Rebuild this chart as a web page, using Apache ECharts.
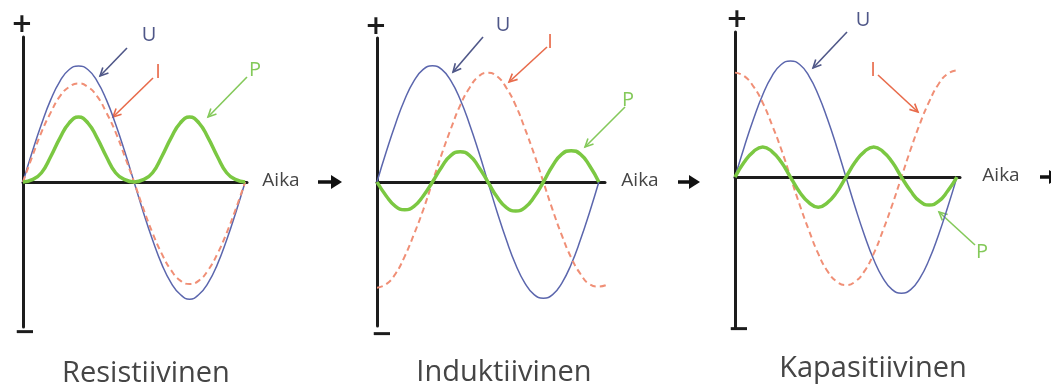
<!DOCTYPE html>
<html>
<head>
<meta charset="utf-8">
<script src="https://cdn.jsdelivr.net/npm/echarts@6/dist/echarts.min.js"></script>
<style>
  html, body { margin: 0; padding: 0; background: #ffffff; }
  #chart { width: 1051px; height: 388px; }
</style>
</head>
<body>
<div id="chart"></div>
<script>
// Phase angle (degrees) of each sample, one AC period plus a little overrun
const deg = [0, 15, 30, 45, 60, 75, 90, 105, 120, 135, 150, 165, 180,
             195, 210, 225, 240, 255, 270, 285, 300, 315, 330, 345, 360, 375];

// Resistive load: current in phase with voltage, power always positive
const resU = [0, 26, 50, 71, 87, 97, 100, 97, 87, 71, 50, 26, 0, -26, -50, -71, -87, -97, -101, -97, -87, -71, -50, -26, 0];
const resI = [0, 22, 43, 60, 74, 82, 85, 82, 74, 60, 43, 22, 0, -23, -44, -62, -76, -85, -88, -85, -76, -62, -44, -23, 0];
const resP = [0, 2, 8, 22, 38, 51, 56, 51, 38, 22, 8, 2, 0, 2, 8, 22, 38, 51, 56, 51, 38, 22, 8, 2, 0];

// Inductive load: current lags voltage by a quarter period
const indU = [0, 26, 50, 71, 87, 97, 100, 97, 87, 71, 50, 26, 0, -26, -50, -71, -87, -97, -100, -97, -87, -71, -50, -26, 0];
const indI = [-91, -88, -79, -64, -45, -24, 0, 24, 46, 66, 81, 91, 94, 91, 81, 66, 46, 24, 0, -24, -46, -65, -79, -88, -90, -88];
const indP = [0, -12, -21, -24, -21, -12, 0, 13, 23, 26, 23, 13, 0, -13, -22, -25, -22, -13, 0, 14, 24, 27, 24, 14, 0];

// Capacitive load: current leads voltage by a quarter period
const capU = [0, 26, 50, 71, 87, 97, 100, 97, 87, 71, 50, 26, 0, -26, -50, -71, -87, -97, -100, -97, -87, -71, -50, -26, 0];
const capI = [90, 87, 78, 64, 45, 24, 0, -24, -46, -66, -81, -90, -93, -90, -81, -66, -46, -24, 0, 24, 46, 65, 80, 89, 92];
const capP = [0, 13, 22, 26, 22, 13, 0, -13, -22, -26, -22, -13, 0, 13, 22, 26, 22, 13, 0, -12, -21, -24, -21, -12, 0];

const panelTitles = ['Resistiivinen', 'Induktiivinen', 'Kapasitiivinen'];
const timeLabel = 'Aika';
const curveNames = ['U', 'I', 'P'];

const C_U = '#5b66ad', C_I = '#f08f76', C_P = '#7bc842';
const L_U = '#4f5788', L_I = '#e86b4b', L_P = '#84c95a';
const AXIS = '#1c1c1c', TEXT = '#454545';

const panels = [
  { grid: { left: 23, top: 37, width: 224, height: 290 }, xMax: 363, yMin: -125, yMax: 125, U: resU, I: resI, P: resP },
  { grid: { left: 377, top: 38, width: 228, height: 288 }, xMax: 370, yMin: -124, yMax: 124, U: indU, I: indI, P: indP },
  { grid: { left: 735, top: 32, width: 225, height: 296 }, xMax: 365, yMin: -130, yMax: 125, U: capU, I: capI, P: capP }
];

const pairs = vals => vals.map((v, i) => [deg[i], v]);

const grids = [], xAxes = [], yAxes = [], series = [];
panels.forEach((p, k) => {
  grids.push(p.grid);
  xAxes.push({
    gridIndex: k, type: 'value', min: 0, max: p.xMax,
    axisLine: { onZero: true, lineStyle: { color: AXIS, width: 3 } },
    axisTick: { show: false }, axisLabel: { show: false }, splitLine: { show: false }
  });
  yAxes.push({
    gridIndex: k, type: 'value', min: p.yMin, max: p.yMax,
    axisLine: { show: true, onZero: false, lineStyle: { color: AXIS, width: 3 } },
    axisTick: { show: false }, axisLabel: { show: false }, splitLine: { show: false }
  });
  series.push({
    name: curveNames[0], type: 'line', xAxisIndex: k, yAxisIndex: k, data: pairs(p.U),
    smooth: true, symbol: 'none', clip: false, z: 3,
    lineStyle: { color: C_U, width: 1.5 }
  });
  series.push({
    name: curveNames[1], type: 'line', xAxisIndex: k, yAxisIndex: k, data: pairs(p.I),
    smooth: true, symbol: 'none', clip: false, z: 4,
    lineStyle: { color: C_I, width: 2, type: [6, 4] }
  });
  series.push({
    name: curveNames[2], type: 'line', xAxisIndex: k, yAxisIndex: k, data: pairs(p.P),
    smooth: true, symbol: 'none', clip: false, z: 5,
    lineStyle: { color: C_P, width: 3.5 }
  });
});

// Thin pointer from a curve name to its curve, with an open chevron head
function pointer(x1, y1, x2, y2, color) {
  const a = Math.atan2(y2 - y1, x2 - x1), h = 9, s = 0.45;
  const p1 = [x2 - h * Math.cos(a - s), y2 - h * Math.sin(a - s)];
  const p2 = [x2 - h * Math.cos(a + s), y2 - h * Math.sin(a + s)];
  return [
    { type: 'line', shape: { x1, y1, x2, y2 }, style: { stroke: color, lineWidth: 1.6 } },
    { type: 'polyline', shape: { points: [p1, [x2, y2], p2] }, style: { stroke: color, lineWidth: 1.6, fill: null } }
  ];
}
function label(text, x, y, color, size) {
  return { type: 'text', x, y, style: { text, fill: color, font: size + 'px "Open Sans"', align: 'center', verticalAlign: 'middle' } };
}
// Bold time-direction arrow after the "Aika" label
function timeArrow(x1, x2, y) {
  return [
    { type: 'line', shape: { x1, y1: y, x2: x2 - 8, y2: y }, style: { stroke: '#111', lineWidth: 3.5 } },
    { type: 'polygon', shape: { points: [[x2 - 11, y - 7], [x2, y], [x2 - 11, y + 7]] }, style: { fill: '#111' } }
  ];
}
function sign(text, x, y) {
  return { type: 'text', x, y, style: { text, fill: AXIS, font: 'bold 26px "DejaVu Sans"', align: 'center', verticalAlign: 'middle' } };
}

const graphics = [
  sign('+', 22, 25), sign('\u2212', 25, 333),
  sign('+', 376, 27), sign('\u2212', 382, 335),
  sign('+', 737, 20), sign('\u2212', 739, 330),

  label(timeLabel, 281, 181, TEXT, 19), ...timeArrow(318, 342, 182),
  label(timeLabel, 640, 181, TEXT, 19), ...timeArrow(678, 700, 182),
  label(timeLabel, 1001, 176, TEXT, 19), ...timeArrow(1040, 1060, 177),

  label(curveNames[0], 149, 35, L_U, 20), ...pointer(127, 48, 100, 76, L_U),
  label(curveNames[1], 158, 72, L_I, 20), ...pointer(153, 78, 113, 117, L_I),
  label(curveNames[2], 255, 70, L_P, 20), ...pointer(247, 77, 208, 117, L_P),

  label(curveNames[0], 503, 25, L_U, 20), ...pointer(483, 37, 453, 72, L_U),
  label(curveNames[1], 550, 42, L_I, 20), ...pointer(547, 47, 509, 82, L_I),
  label(curveNames[2], 628, 100, L_P, 20), ...pointer(625, 107, 585, 147, L_P),

  label(curveNames[0], 863, 20, L_U, 20), ...pointer(847, 32, 813, 68, L_U),
  label(curveNames[1], 873, 70, L_I, 20), ...pointer(878, 75, 918, 112, L_I),
  label(curveNames[2], 982, 252, L_P, 20), ...pointer(975, 245, 939, 212, L_P),

  label(panelTitles[0], 146, 374, TEXT, 29),
  label(panelTitles[1], 504, 373, TEXT, 29),
  label(panelTitles[2], 873, 369, TEXT, 29)
];

const chart = echarts.init(document.getElementById('chart'), null, { renderer: 'canvas' });
chart.setOption({
  animation: false,
  backgroundColor: '#ffffff',
  grid: grids, xAxis: xAxes, yAxis: yAxes, series,
  graphic: graphics
});
</script>
</body>
</html>
